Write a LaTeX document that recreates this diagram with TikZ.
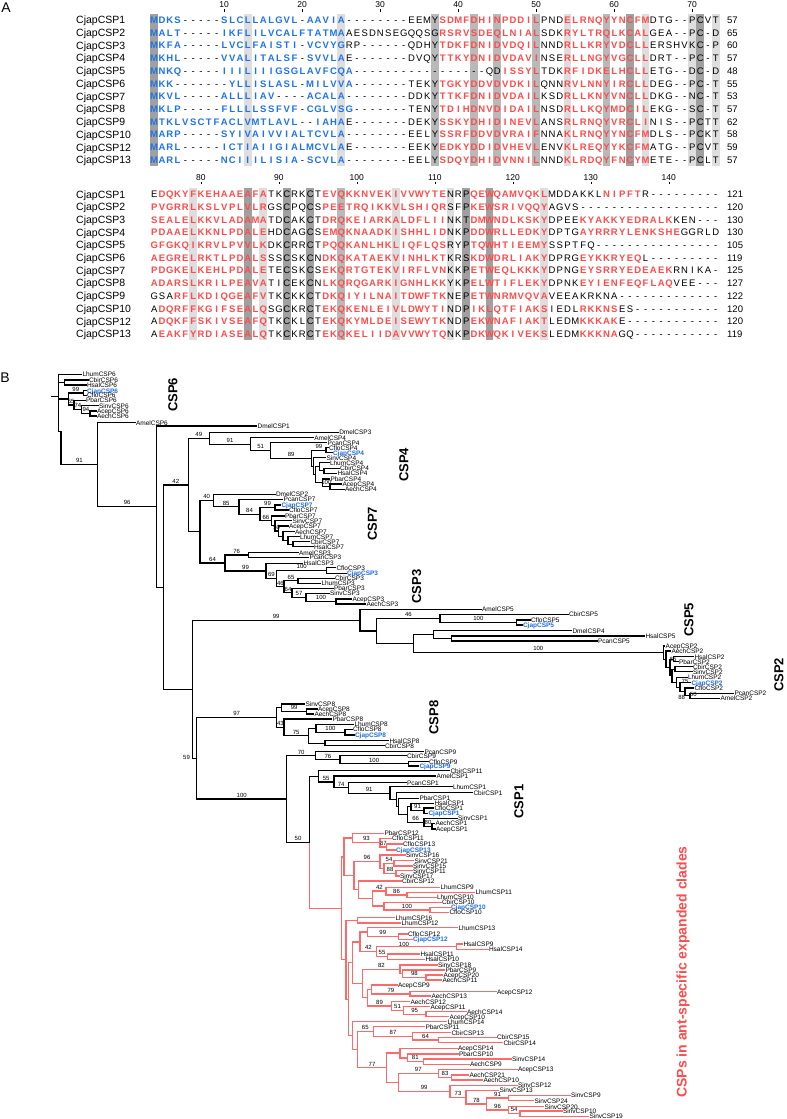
\documentclass[tikz,border=0pt]{standalone}
\usepackage{fontspec}
\setmainfont{Liberation Sans}
\usepackage{xcolor}
\definecolor{seqblue}{RGB}{30,115,235}
\definecolor{seqred}{RGB}{255,75,75}
\definecolor{treered}{RGB}{255,105,105}
\definecolor{leafblue}{RGB}{30,110,230}
\definecolor{shdark}{RGB}{160,160,160}
\definecolor{shmed}{RGB}{185,185,185}
\definecolor{shlight}{RGB}{222,222,222}
\newcommand\seqcolw{7.8pt}
\def\seqstop{\seqstop}
\def\seqloop#1{\ifx#1\seqstop\else\seqchar#1\expandafter\seqloop\fi}
\def\seqchar#1{\if r#1\color{seqred}\bfseries\else\if u#1\color{seqblue}\bfseries\else\if k#1\color{black}\mdseries\else\hbox to\seqcolw{\hss#1\hss}\fi\fi\fi}
\newcommand\seqrow[1]{\seqloop#1\seqstop}
\newcommand\sqA[2]{\node[seqtxt] at (150.1,{20+12.73*(#1-1)+3.4}) {\seqrow{#2}};}
\newcommand\sqB[2]{\node[seqtxt] at (150.1,{194.3+12.7*(#1-1)+3.4}) {\seqrow{#2}};}
\newcommand\tleaf[5]{%
  \expandafter\xdef\csname ty@#1\endcsname{#3}%
  \expandafter\xdef\csname tx@#1\endcsname{#2}%
  \coordinate (#1) at (#2,#3);
  \node[leaflab,#5] at (#1) {#4};}
\newcommand\tnodebase[4]{%
  \edef\tya{\csname ty@#3\endcsname}\edef\tyb{\csname ty@#4\endcsname}%
  \pgfmathsetmacro\tmpy{(\tya+\tyb)/2}%
  \expandafter\xdef\csname ty@#1\endcsname{\tmpy}%
  \expandafter\xdef\csname tx@#1\endcsname{#2}%
  \coordinate (#1) at (#2,\tmpy);}
\newcommand\bslab[3]{\ifx\relax#3\relax\else
  \edef\bsxc{\csname tx@#2\endcsname}\edef\bsy{\csname ty@#2\endcsname}%
  \pgfmathsetmacro\bsx{(#1+\bsxc)/2}%
  \node[bslabel] at (\bsx,\bsy-3.9) {#3};\fi}
\newcommand\tnode[6]{\tnodebase{#1}{#2}{#3}{#4}%
  \draw[tedge] (#1) |- (#3);
  \draw[tedge] (#1) |- (#4);
  \bslab{#2}{#3}{#5}\bslab{#2}{#4}{#6}}
\newcommand\tnodeRB[4]{\tnodebase{#1}{#2}{#3}{#4}%
  \draw[tedge] (#1) |- (#3);
  \draw[redline] (#1) |- (#4);}
\begin{document}
\begin{tikzpicture}[x=1pt,y=-1pt,
  tedge/.style={line width=1.1pt,black,line cap=rect},
  redline/.style={line width=1.4pt,treered,line cap=rect},
  leaflab/.style={anchor=west,inner xsep=0.8pt,inner ysep=0pt,text height=4.6pt,text depth=0pt,font=\fontsize{6.5}{7}\selectfont},
  cj/.style={text=leafblue,font=\fontsize{6.5}{7}\selectfont\bfseries},
  bslabel/.style={inner sep=0pt,text height=4.4pt,text depth=0pt,font=\fontsize{6}{7}\selectfont},
  clab/.style={rotate=90,inner sep=0pt,font=\fontsize{13}{15}\selectfont\bfseries},
  seqtxt/.style={anchor=base west,inner sep=0pt,font=\fontsize{9.5}{11}\selectfont},
  seqname/.style={anchor=base west,inner sep=0pt,font=\fontsize{10.5}{12}\selectfont},
  seqnum/.style={anchor=base west,inner sep=0pt,font=\fontsize{9.5}{11}\selectfont},
  ticklab/.style={inner sep=0pt,font=\fontsize{8.5}{10}\selectfont},
  panel/.style={inner sep=0pt,font=\fontsize{14}{16}\selectfont}]
\fill[white] (0,0) rectangle (787,1119);
\useasboundingbox (0,0) rectangle (787,1119);
% ---------------- Panel A ----------------
\node[panel] at (6,7.5) {A};
\foreach \c/\s in {1/shdark,13/shlight,25/shlight,37/shmed,42/shmed,45/shmed,50/shmed,54/shlight,59/shmed,62/shdark,64/shlight,70/shlight,71/shdark,73/shlight}
  \fill[\s] ({154+7.8*(\c-1)-3.9},13.6) rectangle ({154+7.8*(\c-1)+3.9},166.4);
\foreach \c/\s in {6/shlight,13/shdark,15/shlight,18/shdark,21/shdark,25/shmed,32/shlight,39/shlight,41/shdark,44/shdark,51/shlight}
  \fill[\s] ({154+7.8*(\c-1)-3.9},188) rectangle ({154+7.8*(\c-1)+3.9},340.4);
\foreach \c/\t in {10/10,20/20,30/30,40/40,50/50,60/60,70/70}{
  \node[ticklab] at ({154+7.8*(\c-1)},5) {\t};
  \draw[line width=0.5pt] ({154+7.8*(\c-1)},9.3) -- ++(0,2.6);}
\foreach \c/\t in {7/80,17/90,27/100,37/110,47/120,57/130,67/140}{
  \node[ticklab] at ({154+7.8*(\c-1)},177.7) {\t};
  \draw[line width=0.5pt] ({154+7.8*(\c-1)},181.8) -- ++(0,2.6);}
\foreach \nm [count=\i] in {CjapCSP1,CjapCSP2,CjapCSP3,CjapCSP4,CjapCSP5,CjapCSP6,CjapCSP7,CjapCSP8,CjapCSP9,CjapCSP10,CjapCSP12,CjapCSP13}{
  \node[seqname] at (76,{20+12.73*(\i-1)+3.7}) {\nm};
  \node[seqname] at (76,{194.3+12.7*(\i-1)+3.7}) {\nm};}
\foreach \n [count=\i] in {57,65,60,57,48,55,53,57,62,58,59,57}
  \node[seqnum] at (727,{20+12.73*(\i-1)+3.4}) {\n};
\foreach \n [count=\i] in {121,120,130,130,105,119,125,127,122,120,120,119}
  \node[seqnum] at (727,{194.3+12.7*(\i-1)+3.4}) {\n};
\sqA{1}{uMDKSk-----uSLCLLALGVLk-uAAVIAk--------EEMYrSDMFDHINPDDILkPNDrELRNQYYNCFMkDTG--PCVT}
\sqA{2}{uMALTk-----uIKFLILVCALFTATMAkAESDNSEGQQSGrRSRVSDEQLNIALkSDKrRYLTRQLKCALkGEA--PC-D}
\sqA{3}{uMKFAk-----uLVCLFAISTIk-uVCVYGkRP------QDHYrTDKFDNIDVDQILkNNDrRLLKRYVDCLLkERSHVKC-P}
\sqA{4}{uMKHLk-----uVVALITALSFk-uSVVLAkE-------DVQYrTTKYDNIDVDAVIkNSErRLLNGYVGCLLkDRT--PC-T}
\sqA{5}{uMNKQk-----uIIILIIIGSGLAVFCQAk-----------------QDrISSYLkTDKrRFIDKELHCLLkETG--DC-D}
\sqA{6}{uMKKk-------uYLLISLASLk-uMILVVAk-------TEKYrTGKYDDVDVDKILkQNNrRVLNNYIRCLLkDEG--PC-T}
\sqA{7}{uMKVLk-----uALLLIAVk----uACALAk--------DDKYrTTKFDNIDVDAILkKSDrRLLKNYVNCLLkDKG--NC-T}
\sqA{8}{uMKLPk-----uFLLLLSSFVFk-uCGLVSGk-------TENYrTDIHDNVDIDAILkNSDrRLLKQYMDCILkEKG--SC-T}
\sqA{9}{uMTKLVSCTFACLVMTLAVLk--uIAHAkE-------DEKYrSSKYDHIDINEVLkANSrRLRNQYVRCLIkNIS--PCTT}
\sqA{10}{uMARPk-----uSYIVAIVVIALTCVLAk--------EELYrSSRFDDVDVRAIFkNNArKLRNQYYNCFMkDLS--PCKT}
\sqA{11}{uMARLk-----uICTIAIIGIALMCVLAkE-------EEKYrEDKYDDIDVHEVLkENVrKLREQYYKCFMkATG--PCVT}
\sqA{12}{uMARLk-----uNCIIILISIAk-uSCVLAk--------EELYrSDQYDHIDVNNILkNNDrKLRDQYFNCYMkETE--PCLT}
\sqB{1}{kErDQKYFKEHAAEAFAkTKCRKCTrEVQKKNVEKIVVWYTEkNRPrQEWQAMVQKLkMDDAKKLrNIPFTkR---------}
\sqB{2}{rPVGRRLKSLVPLVLRkGSCPQCSrPEETRQIKKVLSHIQRkSFPrKEWSRIVQQYkAGVS------------------}
\sqB{3}{rSEALELKKVLADAMAkTDCAKCTrDRQKEIARKALDFLIIkNKTrDMWNDLKSKYkDPEErKYAKKYEDRALKkKEN---}
\sqB{4}{rPDAAELKKNLPDALEkHDCAGCSrEMQKNAADKISHHLIDkNKPrDDWRLLEDKYkDPTGrAYRRRYLENKSHEkGGRLD}
\sqB{5}{rGFGKQIKRVLPVVLKkDKCRRCTrPQQKANLHKLIQFLQSkRYPrTQWHTIEEMYkSSPTFQ----------------}
\sqB{6}{rAEGRELRKTLPDALSkSSCSKCNrDKQKATAEKVINHLKTkKRSrKDWDRLIAKYkDPRGrEYKKRYEQkL---------}
\sqB{7}{rPDGKELKEHLPDALEkTECSKCSrEKQRTGTEKVIRFLVNkKKPrETWEQLKKKYkDPNGrEYSRRYEDEAEKkRNIKA-}
\sqB{8}{rADARSLKRILPEAVAkTICEKCNrLKQRQGARKIGNHLKKkYKPrELWTIFLEKYkDPNKrEYIENFEQFLAQkVEE---}
\sqB{9}{kGSArRFLKDIQGEAFVkTKCKKCTrDKQIYILNAITDWFTKkNEPrETWNRMVQVAkVEEAKRKNA-------------}
\sqB{10}{kArDQRFFKGIFSEALQkSGCKRCTrEKQKENLEIVLDWYTIkNDPrIKLQTFIAKSkIEDLrRKKNSkES-----------}
\sqB{11}{kArDQKFFSKIVSEAFQkTKCKLCTrEKQKYMLDEISEWYTKkNDPrEKWNAFIAKTkLEDMrKKKAKkE------------}
\sqB{12}{kArEAKFYRDIASEALQkTKCKRCTrEKQKELIIDAVVWYTQkNKPrDKWQKIVEKSkLEDMrKKKNAkGQ-----------}
% ---------------- Panel B ----------------
\node[panel] at (5,378) {B};
% CSP6
\tleaf{LhumSix}{81.5}{374.3}{LhumCSP6}{}
\tleaf{CbirSix}{88}{380}{CbirCSP6}{}
\tleaf{HsalSix}{86}{385}{HsalCSP6}{}
\tleaf{CjapSix}{86}{390.7}{CjapCSP6}{cj}
\tleaf{CfloSix}{86}{395.3}{CfloCSP6}{}
\tleaf{PbarSix}{85}{400.3}{PbarCSP6}{}
\tleaf{SinvSix}{98}{405.7}{SinvCSP6}{}
\tleaf{AcepSix}{96}{411}{AcepCSP6}{}
\tleaf{AechSix}{96}{416}{AechCSP6}{}
\tnode{sA}{90}{AcepSix}{AechSix}{}{}
\tnode{sB}{81.7}{SinvSix}{sA}{}{94}
\tnode{sC}{74}{PbarSix}{sB}{}{74}
\tnode{sD}{83.3}{CjapSix}{CfloSix}{}{}
\tnode{sE}{68.3}{sD}{sC}{99}{55}
\tnode{sF}{64.3}{CbirSix}{HsalSix}{}{}
\coordinate (R) at (58.3,396.7);
\coordinate (Rs) at (52,396.7);
\coordinate (Rb) at (61,431.7);
\draw[tedge] (Rs) -- (R);
\draw[tedge] (R) |- (LhumSix);
\draw[tedge] (R) |- (sF);
\draw[tedge] (R) |- (sE);
\draw[tedge] (R) |- (Rb);
% CSP4
\tleaf{AmelSixb}{135}{422.7}{AmelCSP6}{}
\tleaf{DmelOne}{256.7}{426}{DmelCSP1}{}
\tleaf{DmelThree}{338.3}{432.3}{DmelCSP3}{}
\tleaf{AmelFour}{313.3}{437.7}{AmelCSP4}{}
\tleaf{PcanFour}{326.7}{442.7}{PcanCSP4}{}
\tleaf{CfloFour}{328}{447.7}{CfloCSP4}{}
\tleaf{CjapFour}{332}{452.7}{CjapCSP4}{cj}
\tleaf{SinvFour}{325.5}{457.7}{SinvCSP4}{}
\tleaf{LhumFour}{329}{462.7}{LhumCSP4}{}
\tleaf{CbirFour}{339}{468.3}{CbirCSP4}{}
\tleaf{HsalFour}{336.5}{473.3}{HsalCSP4}{}
\tleaf{PbarFour}{329.5}{479}{PbarCSP4}{}
\tleaf{AcepFour}{341.5}{484}{AcepCSP4}{}
\tleaf{AechFour}{344}{489.3}{AechCSP4}{}
\tnode{fA}{326}{CfloFour}{CjapFour}{}{}
\tnode{fB}{324}{CbirFour}{HsalFour}{}{}
\tnode{fC}{319.3}{LhumFour}{fB}{}{}
\tnode{fD}{330}{AcepFour}{AechFour}{}{}
\tnode{fE}{322.7}{PbarFour}{fD}{}{100}
\tnode{fF}{315.3}{fC}{fE}{}{}
\tnode{fG}{313.3}{SinvFour}{fF}{}{}
\tnode{fH}{311.7}{fA}{fG}{99}{}
\tnode{fI}{270.7}{PcanFour}{fH}{}{89}
\tnode{fJ}{250.7}{AmelFour}{fI}{}{51}
\tnode{fK}{209.3}{DmelThree}{fJ}{}{91}
% CSP7
\tleaf{DmelTwo}{275}{494.3}{DmelCSP2}{}
\tleaf{PcanSeven}{282.7}{499.3}{PcanCSP7}{}
\tleaf{CjapSeven}{280.5}{505}{CjapCSP7}{cj}
\tleaf{CfloSeven}{288}{510}{CfloCSP7}{}
\tleaf{PbarSeven}{284}{516}{PbarCSP7}{}
\tleaf{SinvSeven}{291.5}{520.7}{SinvCSP7}{}
\tleaf{AcepSeven}{288}{526}{AcepCSP7}{}
\tleaf{AechSeven}{294}{531.7}{AechCSP7}{}
\tleaf{LhumSeven}{299}{536.7}{LhumCSP7}{}
\tleaf{CbirSeven}{309.5}{541.7}{CbirCSP7}{}
\tleaf{HsalSeven}{313}{546.7}{HsalCSP7}{}
\tnode{vA}{275}{CjapSeven}{CfloSeven}{}{}
\tnode{vB}{293}{CbirSeven}{HsalSeven}{}{}
\tnode{vC}{288}{LhumSeven}{vB}{}{}
\tnode{vD}{283}{AechSeven}{vC}{}{}
\tnode{vE}{278.3}{AcepSeven}{vD}{}{}
\tnode{vF}{275}{SinvSeven}{vE}{}{50}
\tnode{vG}{271.7}{PbarSeven}{vF}{}{}
\tnode{vH}{260}{vA}{vG}{99}{66}
\tnode{vI}{239}{PcanSeven}{vH}{}{84}
\tnode{vJ}{213.3}{DmelTwo}{vI}{}{85}
% CSP3
\tleaf{AmelThree}{298}{552.7}{AmelCSP3}{}
\tleaf{PcanThree}{308.5}{557.3}{PcanCSP3}{}
\tleaf{HsalThree}{302.7}{563.3}{HsalCSP3}{}
\tleaf{CfloThree}{335.5}{567.7}{CfloCSP3}{}
\tleaf{CjapThree}{346}{573.3}{CjapCSP3}{cj}
\tleaf{CbirThree}{334}{578.3}{CbirCSP3}{}
\tleaf{LhumThree}{320.5}{583.3}{LhumCSP3}{}
\tleaf{PbarThree}{333}{588.3}{PbarCSP3}{}
\tleaf{SinvThree}{329}{593.3}{SinvCSP3}{}
\tleaf{AcepThree}{351.5}{599}{AcepCSP3}{}
\tleaf{AechThree}{365.5}{604}{AechCSP3}{}
\tnode{tA}{248.3}{AmelThree}{PcanThree}{}{}
\tnode{tB}{326.7}{CfloThree}{CjapThree}{}{}
\tnode{tC}{298}{CbirThree}{LhumThree}{}{}
\tnode{tD}{336}{AcepThree}{AechThree}{}{}
\tnode{tE}{306}{SinvThree}{tD}{}{100}
\tnode{tF}{292}{PbarThree}{tE}{}{57}
\tnode{tG}{284}{tC}{tF}{65}{64}
\tnode{tH}{276.7}{tB}{tG}{100}{46}
\tnode{tI}{266}{HsalThree}{tH}{}{69}
\tnode{tJ}{225}{tA}{tI}{76}{99}
\tnode{kA}{200}{vJ}{tJ}{40}{64}
\tnode{kB}{188.3}{fK}{kA}{49}{}
% CSP5 / CSP2
\tleaf{AmelFive}{481}{609.3}{AmelCSP5}{}
\tleaf{CbirFive}{568}{614.3}{CbirCSP5}{}
\tleaf{CfloFive}{530}{620}{CfloCSP5}{}
\tleaf{CjapFive}{522}{625}{CjapCSP5}{cj}
\tleaf{DmelFour}{571.5}{630.7}{DmelCSP4}{}
\tleaf{HsalFive}{644.5}{636}{HsalCSP5}{}
\tleaf{PcanFive}{597}{641}{PcanCSP5}{}
\tleaf{AcepTwo}{664.7}{646}{AcepCSP2}{}
\tleaf{AechTwo}{670.5}{651}{AechCSP2}{}
\tleaf{HsalTwo}{693.5}{656.7}{HsalCSP2}{}
\tleaf{PbarTwo}{678}{661.7}{PbarCSP2}{}
\tleaf{CbirTwo}{692}{666.7}{CbirCSP2}{}
\tleaf{SinvTwo}{692}{671.7}{SinvCSP2}{}
\tleaf{LhumTwo}{687}{677.3}{LhumCSP2}{}
\tleaf{CjapTwo}{690.5}{682.7}{CjapCSP2}{cj}
\tleaf{CfloTwo}{693.5}{688}{CfloCSP2}{}
\tleaf{PcanTwo}{733.5}{693.3}{PcanCSP2}{}
\tleaf{AmelTwo}{719.5}{698.3}{AmelCSP2}{}
\tnode{pA}{516.7}{CfloFive}{CjapFive}{}{}
\tnode{pB}{440}{CbirFive}{pA}{}{100}
\tnode{pC}{451.7}{HsalFive}{PcanFive}{}{}
\tnode{pD}{433.3}{DmelFour}{pC}{}{}
\tnode{wA}{690}{PcanTwo}{AmelTwo}{}{}
\tnode{wB}{685}{CfloTwo}{wA}{}{}
\tnode{wC}{680}{CjapTwo}{wB}{}{}
\tnode{wD}{676.7}{LhumTwo}{wC}{}{}
\tnode{wE}{675}{CbirTwo}{SinvTwo}{}{}
\tnode{wF}{672}{wE}{wD}{}{}
\tnode{wG}{673.3}{HsalTwo}{PbarTwo}{}{}
\tnode{wH}{670}{wG}{wF}{}{}
\tnode{wI}{666}{AechTwo}{wH}{}{}
\tnode{wJ}{663.3}{AcepTwo}{wI}{}{}
\tnode{pE}{413.3}{pD}{wJ}{}{100}
\tnode{pF}{376.7}{pB}{pE}{46}{}
\tnode{pG}{360}{AmelFive}{pF}{}{}
\node[bslabel] at (673,659.3) {85};
\node[bslabel] at (685,681.7) {75};
\node[bslabel] at (681.7,697.3) {88};
\node[bslabel] at (693.3,694) {50};
% CSP8
\tleaf{SinvEight}{304.5}{704}{SinvCSP8}{}
\tleaf{AcepEight}{317}{709}{AcepCSP8}{}
\tleaf{AechEight}{313.5}{714}{AechCSP8}{}
\tleaf{PbarEight}{331.5}{719}{PbarCSP8}{}
\tleaf{LhumEight}{353.5}{724.3}{LhumCSP8}{}
\tleaf{CfloEight}{352}{729.3}{CfloCSP8}{}
\tleaf{CjapEight}{354}{735}{CjapCSP8}{cj}
\tleaf{HsalEight}{388.5}{740.7}{HsalCSP8}{}
\tleaf{CbirEight}{384}{745.7}{CbirCSP8}{}
\tnode{eA}{306.7}{AcepEight}{AechEight}{}{}
\tnode{eB}{281.7}{SinvEight}{eA}{}{99}
\tnode{eC}{345}{CfloEight}{CjapEight}{}{}
\tnode{eD}{316}{LhumEight}{eC}{}{100}
\tnode{eE}{325}{HsalEight}{CbirEight}{}{}
\tnode{eF}{308.3}{eD}{eE}{}{}
\tnode{eG}{284}{PbarEight}{eF}{}{75}
\tnode{eH}{276.7}{eB}{eG}{}{43}
% CSP9
\tleaf{PcanNine}{423.5}{751.7}{PcanCSP9}{}
\tleaf{CbirNine}{406}{755.7}{CbirCSP9}{}
\tleaf{CfloNine}{428}{761.7}{CfloCSP9}{}
\tleaf{CjapNine}{418.5}{766}{CjapCSP9}{cj}
\tnode{gA}{408.3}{CfloNine}{CjapNine}{}{}
\tnode{gB}{340}{CbirNine}{gA}{}{100}
\tnode{gC}{315.7}{PcanNine}{gB}{}{76}
% CSP1
\tleaf{CbirEleven}{449.5}{770.7}{CbirCSP11}{}
\tleaf{AmelOne}{435.5}{776}{AmelCSP1}{}
\tleaf{PcanOne}{406}{782.7}{PcanCSP1}{}
\tleaf{LhumOne}{452}{786.7}{LhumCSP1}{}
\tleaf{CbirOne}{472.5}{792.7}{CbirCSP1}{}
\tleaf{PbarOne}{418.5}{798.3}{PbarCSP1}{}
\tleaf{HsalOne}{433.5}{803.1}{HsalCSP1}{}
\tleaf{CfloOne}{433.5}{808}{CfloCSP1}{}
\tleaf{CjapOne}{427.5}{813.3}{CjapCSP1}{cj}
\tleaf{SinvOne}{457}{818.3}{SinvCSP1}{}
\tleaf{AechOne}{434.5}{823.3}{AechCSP1}{}
\tleaf{AcepOne}{435}{829}{AcepCSP1}{}
\tnode{oA}{424}{CfloOne}{CjapOne}{}{}
\tnode{oB}{411}{HsalOne}{oA}{}{91}
\tnode{oC}{432}{AechOne}{AcepOne}{}{}
\tnode{oD}{424}{SinvOne}{oC}{}{80}
\tnode{oE}{407.3}{oB}{oD}{}{66}
\tnode{oF}{398.3}{PbarOne}{oE}{}{}
\tnode{oG}{396.7}{CbirOne}{oF}{}{}
\tnode{oH}{390}{LhumOne}{oG}{}{}
\tnode{oI}{348.3}{PcanOne}{oH}{}{91}
\tnode{oJ}{334}{AmelOne}{oI}{}{74}
\tnode{oK}{318.3}{CbirEleven}{oJ}{}{55}
% expanded clades (red)
\begin{scope}[tedge/.style={redline}]
\tleaf{PbarTwelve}{383.5}{833.3}{PbarCSP12}{}
\tleaf{CfloEleven}{391}{838.3}{CfloCSP11}{}
\tleaf{CfloThirteen}{402}{844}{CfloCSP13}{}
\tleaf{CjapThirteen}{395}{850}{CjapCSP13}{cj}
\tleaf{SinvSixteen}{405}{855}{SinvCSP16}{}
\tleaf{SinvTwentyOne}{413.5}{860.7}{SinvCSP21}{}
\tleaf{SinvFifteen}{412}{866}{SinvCSP15}{}
\tleaf{SinvEleven}{412}{870.7}{SinvCSP11}{}
\tleaf{SinvSeventeen}{399}{876}{SinvCSP17}{}
\tleaf{CbirTwelve}{401}{881}{CbirCSP12}{}
\tleaf{LhumNine}{439.5}{887.3}{LhumCSP9}{}
\tleaf{LhumEleven}{474.5}{892.3}{LhumCSP11}{}
\tleaf{LhumTen}{436}{897.3}{LhumCSP10}{}
\tleaf{CbirTen}{441}{902.3}{CbirCSP10}{}
\tleaf{CjapTen}{450}{907.3}{CjapCSP10}{cj}
\tleaf{CfloTen}{448.5}{912.3}{CfloCSP10}{}
\tleaf{LhumSixteen}{394.5}{917.7}{LhumCSP16}{}
\tleaf{LhumTwelve}{400.5}{923}{LhumCSP12}{}
\tleaf{LhumThirteen}{457.5}{927.7}{LhumCSP13}{}
\tleaf{CfloTwelve}{407}{934}{CfloCSP12}{}
\tleaf{CjapTwelve}{412}{939.3}{CjapCSP12}{cj}
\tleaf{HsalNine}{462.5}{944}{HsalCSP9}{}
\tleaf{HsalFourteen}{488}{949.3}{HsalCSP14}{}
\tleaf{HsalEleven}{419.5}{954}{HsalCSP11}{}
\tleaf{HsalTen}{424.5}{959.3}{HsalCSP10}{}
\tleaf{SinvEighteen}{437}{965}{SinvCSP18}{}
\tleaf{PbarNine}{444.5}{970}{PbarCSP9}{}
\tleaf{AcepTwenty}{442.5}{975}{AcepCSP20}{}
\tleaf{AechEleven}{441.5}{980}{AechCSP11}{}
\tleaf{AcepNine}{397}{985}{AcepCSP9}{}
\tleaf{AcepTwelve}{496}{991.7}{AcepCSP12}{}
\tleaf{AechThirteen}{430.5}{996}{AechCSP13}{}
\tleaf{AechTwelve}{409.5}{1001.7}{AechCSP12}{}
\tleaf{AcepEleven}{429.5}{1006.7}{AcepCSP11}{}
\tleaf{AechFourteen}{466}{1011.7}{AechCSP14}{}
\tleaf{AcepTen}{448.5}{1016.7}{AcepCSP10}{}
\tleaf{LhumFourteen}{446.5}{1021.7}{LhumCSP14}{}
\tleaf{PbarEleven}{424.5}{1026.7}{PbarCSP11}{}
\tleaf{CbirThirteen}{450.5}{1032.7}{CbirCSP13}{}
\tleaf{CbirFifteen}{496}{1037.3}{CbirCSP15}{}
\tleaf{CbirFourteen}{502.5}{1042.7}{CbirCSP14}{}
\tleaf{AcepFourteen}{457}{1048.3}{AcepCSP14}{}
\tleaf{PbarTen}{458}{1054}{PbarCSP10}{}
\tleaf{SinvFourteen}{511}{1059}{SinvCSP14}{}
\tleaf{AechNine}{469}{1064.3}{AechCSP9}{}
\tleaf{AcepThirteen}{517}{1069.3}{AcepCSP13}{}
\tleaf{AechTwentyOne}{468.5}{1075}{AechCSP21}{}
\tleaf{AechTen}{482.5}{1080}{AechCSP10}{}
\tleaf{SinvTwelve}{517}{1085.5}{SinvCSP12}{}
\tleaf{SinvThirteen}{498.5}{1090.5}{SinvCSP13}{}
\tleaf{SinvNine}{570}{1095.3}{SinvCSP9}{}
\tleaf{SinvTwentyFour}{533.5}{1100.7}{SinvCSP24}{}
\tleaf{SinvTwenty}{543.5}{1106.7}{SinvCSP20}{}
\tleaf{SinvTen}{562}{1111}{SinvCSP10}{}
\tleaf{SinvNineteen}{588.5}{1116.2}{SinvCSP19}{}
\tnode{rA}{386.7}{CfloThirteen}{CjapThirteen}{}{}
\tnode{rB}{380}{CfloEleven}{rA}{}{67}
\tnode{rC}{352.7}{PbarTwelve}{rB}{}{93}
\tnode{rD}{394}{SinvTwentyOne}{SinvFifteen}{}{}
\tnode{rE}{396}{SinvEleven}{SinvSeventeen}{}{}
\tnode{rF}{384}{rD}{rE}{54}{88}
\tnode{rG}{380}{SinvSixteen}{rF}{}{}
\tnode{rH}{407}{LhumEleven}{LhumTen}{}{}
\tnode{rI}{386}{LhumNine}{rH}{}{86}
\tnode{rJ}{430}{CjapTen}{CfloTen}{}{}
\tnode{rK}{384}{CbirTen}{rJ}{}{100}
\tnode{rL}{372.7}{rI}{rK}{42}{}
\tnode{rM}{358.3}{CbirTwelve}{rL}{}{}
\tnode{rN}{354}{rG}{rM}{96}{}
\tnode{rO}{344}{rC}{rN}{}{}
\tnode{rP}{357.3}{LhumSixteen}{LhumTwelve}{}{}
\tnode{rQ}{398.3}{CfloTwelve}{CjapTwelve}{}{}
\tnode{rR}{367.3}{LhumThirteen}{rQ}{}{99}
\tnode{rS}{456.7}{HsalNine}{HsalFourteen}{}{}
\tnode{rT}{387.3}{HsalEleven}{HsalTen}{}{}
\tnode{rU}{376.7}{rS}{rT}{}{55}
\tnode{rV}{360}{rR}{rU}{}{42}
\node[bslabel] at (404,944.3) {100};
\tnode{rW}{426}{AcepTwenty}{AechEleven}{}{}
\tnode{rX}{402.7}{PbarNine}{rW}{}{98}
\tnode{rY}{400}{SinvEighteen}{rX}{}{}
\tnode{qA}{410}{AcepTwelve}{AechThirteen}{}{}
\tnode{qB}{371.7}{AcepNine}{qA}{}{79}
\tnode{qC}{426}{AechFourteen}{AcepTen}{}{}
\tnode{qD}{403.3}{AcepEleven}{qC}{}{95}
\tnode{qE}{391.7}{AechTwelve}{qD}{}{51}
\tnode{qF}{367.3}{qB}{qE}{}{89}
\tnode{qG}{362.7}{rY}{qF}{82}{}
\tnode{qH}{352.7}{rV}{qG}{}{}
\tnode{qI}{438.3}{CbirFifteen}{CbirFourteen}{}{}
\tnode{qJ}{412.7}{CbirThirteen}{qI}{}{64}
\tnode{qK}{373.3}{PbarEleven}{qJ}{}{87}
\tnode{qL}{423.3}{SinvFourteen}{AechNine}{}{}
\tnode{qM}{407.3}{PbarTen}{qL}{}{81}
\tnode{qN}{400}{AcepFourteen}{qM}{}{}
\tnode{qO}{451.7}{AechTwentyOne}{AechTen}{}{}
\tnode{qP}{438.3}{AcepThirteen}{qO}{}{83}
\tnode{qQ}{520}{SinvTen}{SinvNineteen}{}{}
\tnode{qR}{508.3}{SinvTwenty}{qQ}{}{54}
\tnode{qS}{508.3}{SinvNine}{SinvTwentyFour}{}{}
\tnode{qT}{486.7}{qS}{qR}{91}{96}
\tnode{qU}{466}{SinvThirteen}{qT}{}{78}
\tnode{qV}{450}{SinvTwelve}{qU}{}{73}
\tnode{qW}{398.3}{qP}{qV}{97}{99}
\tnode{qX}{386.7}{qN}{qW}{}{}
\tnode{qY}{357.3}{qK}{qX}{65}{77}
\tnode{qZ}{352.7}{LhumFourteen}{qY}{}{}
\tnode{zA}{348.3}{qH}{qZ}{}{}
\tnode{zB}{346}{rP}{zA}{}{}
\tnode{rZ}{341.7}{rO}{zB}{}{}
\end{scope}
% backbone
\tnodeRB{hA}{309.3}{oK}{rZ}
\tnode{hB}{286.7}{gC}{hA}{70}{50}
\tnode{hC}{196.7}{eH}{hB}{97}{100}
\tnode{hD}{192.3}{pG}{hC}{99}{}
\node[bslabel] at (186.5,757.5) {59};
\tnode{hE}{163.3}{kB}{hD}{42}{}
\tnode{hF}{156.7}{DmelOne}{hE}{}{}
\tnode{hG}{97.7}{AmelSixb}{hF}{}{96}
\draw[tedge] (Rb) |- (hG);
\node[bslabel] at (79.4,460.7) {91};
% clade labels
\node[clab] at (173,395) {CSP6};
\node[clab] at (404,465) {CSP4};
\node[clab] at (372.5,524) {CSP7};
\node[clab] at (416.7,586.7) {CSP3};
\node[clab] at (689,620) {CSP5};
\node[clab] at (779,675) {CSP2};
\node[clab] at (434,717.5) {CSP8};
\node[clab] at (519,801.7) {CSP1};
\node[clab,text=seqred,font=\fontsize{14}{16}\selectfont\bfseries] at (683,972) {CSPs in ant-specific expanded clades};
\end{tikzpicture}
\end{document}
